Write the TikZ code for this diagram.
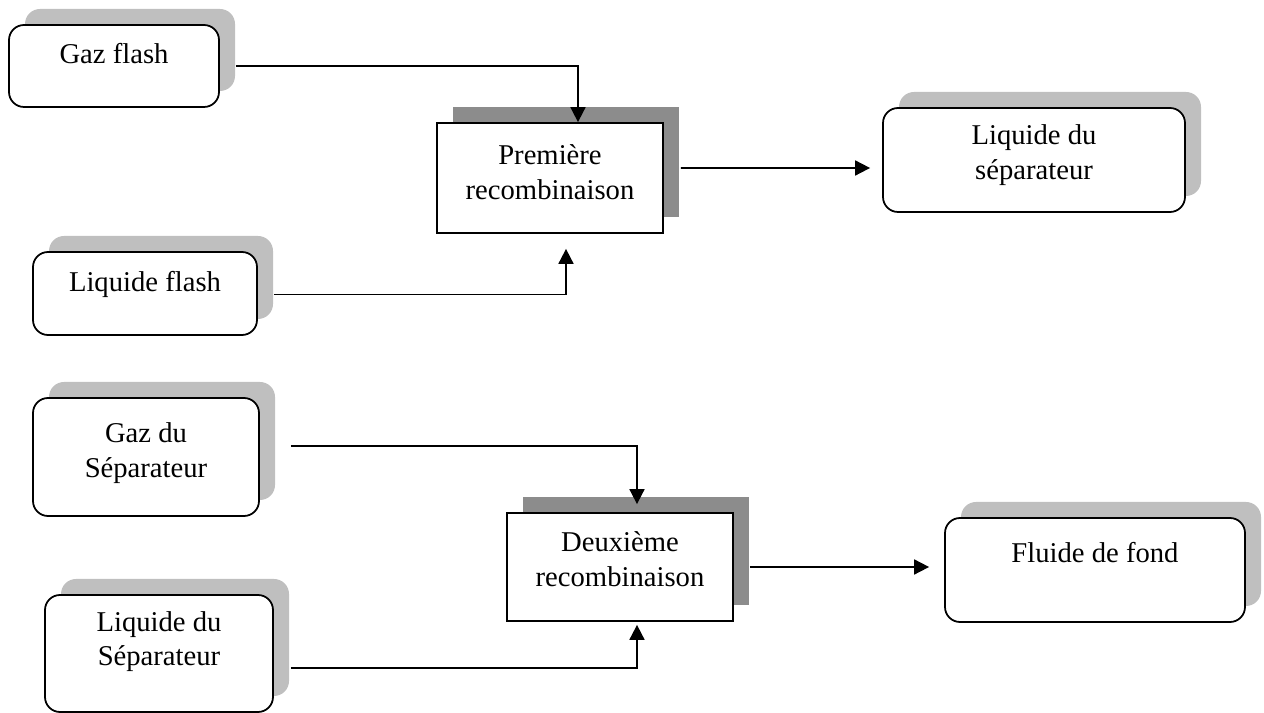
\documentclass[tikz,border=0pt]{standalone}
\usepackage{fontspec}
\setmainfont{Liberation Serif}
\usetikzlibrary{shadows,arrows.meta}

\tikzset{
  box/.style={draw, line width=1pt, fill=white, align=center, inner sep=0pt,
    font=\fontsize{16.3}{19.5}\selectfont},
  rbox/.style={box, rounded corners=0.3cm,
    drop shadow={opacity=1, fill=black!25, shadow xshift=0.32cm, shadow yshift=0.32cm}},
  cbox/.style={box,
    drop shadow={opacity=1, fill=black!45, shadow xshift=0.32cm, shadow yshift=0.32cm}},
  flow/.style={line width=1pt, -{Triangle[length=8.5pt,width=8.5pt]}}
}

\begin{document}
\begin{tikzpicture}
    \useasboundingbox (0,0) rectangle (25.28,14.26);
    % first recombination
    \node[rbox, minimum width=4.2cm, minimum height=1.64cm, text height=11pt, text depth=14.4pt]
      (gazflash) at (2.28,12.94) {Gaz flash};
    \node[rbox, minimum width=4.48cm, minimum height=1.66cm, text height=11pt, text depth=13.8pt]
      (liqflash) at (2.90,8.39) {Liquide flash};
    \node[cbox, minimum width=4.52cm, minimum height=2.2cm, text depth=6.8pt]
      (premiere) at (11.0,10.70) {Première\\recombinaison};
    \node[rbox, minimum width=6.04cm, minimum height=2.08cm, text depth=9pt]
      (liqsep) at (20.68,11.06) {Liquide du\\séparateur};
    % second recombination
    \node[rbox, minimum width=4.52cm, minimum height=2.36cm, text depth=8pt]
      (gazsep) at (2.92,5.12) {Gaz du\\Séparateur};
    \node[rbox, minimum width=4.56cm, minimum height=2.34cm, text depth=17pt]
      (liqsepb) at (3.18,1.19) {Liquide du\\Séparateur};
    \node[cbox, minimum width=4.52cm, minimum height=2.16cm, text depth=9pt]
      (deuxieme) at (12.40,2.92) {Deuxième\\recombinaison};
    \node[rbox, minimum width=6.0cm, minimum height=2.08cm, text height=11pt, text depth=20pt]
      (fluide) at (21.90,2.86) {Fluide de fond};

    \draw[flow] ([xshift=0.32cm]gazflash.east) -| ([xshift=0.56cm]premiere.north);
    \draw[flow] ([shift={(0.32,-0.02)}]liqflash.east) -| ([shift={(0.32,-0.3)}]premiere.south);
    \draw[flow] ([shift={(0.34,0.2)}]premiere.east) -- ([shift={(-0.24,-0.16)}]liqsep.west);
    \draw[flow] ([shift={(0.62,0.22)}]gazsep.east) -| ([shift={(0.34,0.16)}]deuxieme.north);
    \draw[flow] ([shift={(0.34,-0.29)}]liqsepb.east) -| ([shift={(0.34,-0.06)}]deuxieme.south);
    \draw[flow] ([xshift=0.32cm]deuxieme.east) -- ([shift={(-0.3,0.06)}]fluide.west);
\end{tikzpicture}
\end{document}
